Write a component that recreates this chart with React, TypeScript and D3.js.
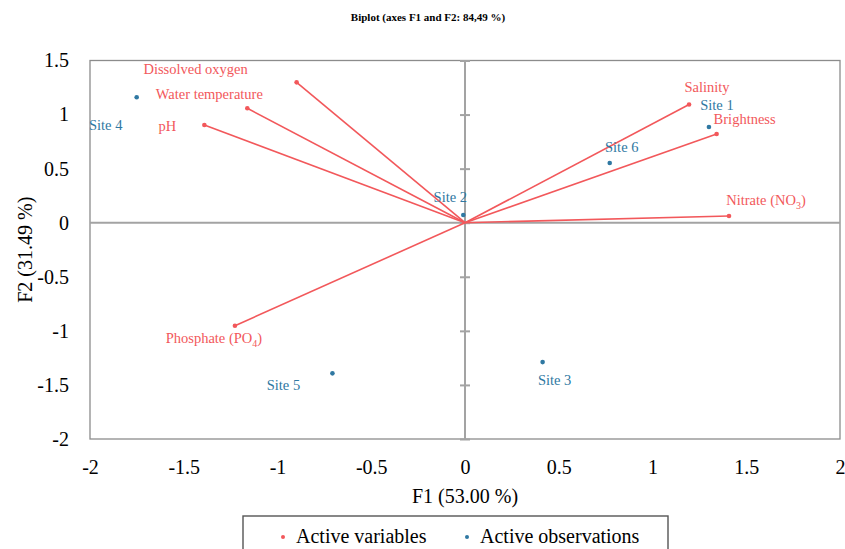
import React, { useEffect, useRef } from "react";
import * as d3 from "d3";

// active variables (F1, F2 coordinates)
const varNames = ["Dissolved oxygen", "Water temperature", "pH", "Salinity", "Brightness", "Nitrate (NO|3|)", "Phosphate (PO|4|)"];
const varF1 = [-0.898, -1.161, -1.39, 1.195, 1.342, 1.408, -1.227];
const varF2 = [1.298, 1.058, 0.904, 1.093, 0.82, 0.062, -0.953];

// active observations
const obsNames = ["Site 1", "Site 2", "Site 3", "Site 4", "Site 5", "Site 6"];
const obsF1 = [1.301, -0.009, 0.414, -1.751, -0.707, 0.772];
const obsF2 = [0.885, 0.071, -1.289, 1.16, -1.393, 0.552];

const xTicks = [-2, -1.5, -1, -0.5, 0, 0.5, 1, 1.5, 2];
const yTicks = [-2, -1.5, -1, -0.5, 0, 0.5, 1, 1.5];

const title = "Biplot (axes F1 and F2: 84,49 %)";
const xTitle = "F1 (53.00 %)";
const yTitle = "F2 (31.49 %)";
const legendLabels = ["Active variables", "Active observations"];

// label offsets in px from the point (text centre, baseline)
const varLabelOffset = [[-101, -8], [-38, -9], [-37, 6], [18, -13], [28, -10], [37, -11], [-21, 17]];
const obsLabelOffset = [[8, -17], [-13, -13], [12, 23], [-31, 33], [-49, 17], [12, -11]];

const RED = "#f2585b";
const BLUE = "#2f78a2";
const GREY = "#a3a3a3";

const App = () => {
  const ref = useRef<SVGSVGElement>(null);

  useEffect(() => {
    const width = 845,
      height = 549;
    const margin = { top: 60.5, right: 5, bottom: 110, left: 90 };

    const svg = d3.select(ref.current);
    svg.selectAll("*").remove();

    const x = d3.scaleLinear().domain([-2, 2]).range([margin.left, width - margin.right]);
    const y = d3.scaleLinear().domain([-2, 1.5]).range([height - margin.bottom, margin.top]);

    const font = "'Liberation Serif', 'Times New Roman', serif";

    // title
    svg
      .append("text")
      .attr("x", 428)
      .attr("y", 21)
      .attr("text-anchor", "middle")
      .style("font-family", font)
      .style("font-weight", "bold")
      .style("font-size", "11px")
      .text(title);

    // frame
    svg
      .append("rect")
      .attr("x", x(-2))
      .attr("y", y(1.5))
      .attr("width", x(2) - x(-2))
      .attr("height", y(-2) - y(1.5))
      .attr("fill", "none")
      .attr("stroke", "#8c8c8c")
      .attr("stroke-width", 1.3);

    // tick labels
    const gx = svg
      .append("g")
      .attr("transform", `translate(0,${y(-2)})`)
      .call(d3.axisBottom(x).tickValues(xTicks).tickSize(0).tickPadding(21).tickFormat((d) => String(d)));
    gx.select(".domain").remove();
    gx.selectAll("text").style("font-family", font).style("font-size", "20px").attr("fill", "#000");

    const gy = svg
      .append("g")
      .attr("transform", `translate(${x(-2)},0)`)
      .call(d3.axisLeft(y).tickValues(yTicks).tickSize(0).tickPadding(21).tickFormat((d) => String(d)));
    gy.select(".domain").remove();
    gy.selectAll("text").style("font-family", font).style("font-size", "20px").attr("fill", "#000");

    // zero lines
    svg
      .append("line")
      .attr("x1", x(-2))
      .attr("x2", x(2))
      .attr("y1", y(0))
      .attr("y2", y(0))
      .attr("stroke", GREY)
      .attr("stroke-width", 2);

    const gz = svg
      .append("g")
      .attr("transform", `translate(${x(0) + 5},0)`)
      .call(d3.axisLeft(y).tickValues(yTicks).tickSize(10).tickSizeOuter(0).tickFormat(() => ""));
    gz.select(".domain").remove();
    gz.selectAll("line").attr("stroke", GREY).attr("stroke-width", 2);
    svg
      .append("line")
      .attr("x1", x(0))
      .attr("x2", x(0))
      .attr("y1", y(1.5))
      .attr("y2", y(-2))
      .attr("stroke", GREY)
      .attr("stroke-width", 2);

    // axis titles
    svg
      .append("text")
      .attr("x", x(0))
      .attr("y", 503)
      .attr("text-anchor", "middle")
      .style("font-family", font)
      .style("font-size", "20px")
      .text(xTitle);
    svg
      .append("text")
      .attr("transform", `translate(32,${y(-0.25)}) rotate(-90)`)
      .attr("text-anchor", "middle")
      .style("font-family", font)
      .style("font-size", "20px")
      .text(yTitle);

    // variable vectors
    const vars = varNames.map((name, i) => ({ name, f1: varF1[i], f2: varF2[i], off: varLabelOffset[i] }));
    svg
      .append("g")
      .selectAll("line")
      .data(vars)
      .enter()
      .append("line")
      .attr("x1", x(0))
      .attr("y1", y(0))
      .attr("x2", (d) => x(d.f1))
      .attr("y2", (d) => y(d.f2))
      .attr("stroke", RED)
      .attr("stroke-width", 1.6);
    svg
      .append("g")
      .selectAll("circle")
      .data(vars)
      .enter()
      .append("circle")
      .attr("cx", (d) => x(d.f1))
      .attr("cy", (d) => y(d.f2))
      .attr("r", 2.3)
      .attr("fill", RED);

    const varText = svg
      .append("g")
      .selectAll("text")
      .data(vars)
      .enter()
      .append("text")
      .attr("x", (d) => x(d.f1) + d.off[0])
      .attr("y", (d) => y(d.f2) + d.off[1])
      .attr("text-anchor", "middle")
      .attr("fill", RED)
      .style("font-family", font)
      .style("font-size", "14.5px");
    varText.each(function (d) {
      const parts = d.name.split("|");
      const t = d3.select(this);
      parts.forEach((p, k) => {
        if (!p) return;
        const sub = k % 2 === 1;
        t.append("tspan")
          .attr("dy", sub ? 4 : k > 0 ? -4 : 0)
          .style("font-size", sub ? "10px" : null)
          .text(p);
      });
    });

    // observations
    const obs = obsNames.map((name, i) => ({ name, f1: obsF1[i], f2: obsF2[i], off: obsLabelOffset[i] }));
    svg
      .append("g")
      .selectAll("circle")
      .data(obs)
      .enter()
      .append("circle")
      .attr("cx", (d) => x(d.f1))
      .attr("cy", (d) => y(d.f2))
      .attr("r", 2.3)
      .attr("fill", BLUE);
    svg
      .append("g")
      .selectAll("text")
      .data(obs)
      .enter()
      .append("text")
      .attr("x", (d) => x(d.f1) + d.off[0])
      .attr("y", (d) => y(d.f2) + d.off[1])
      .attr("text-anchor", "middle")
      .attr("fill", BLUE)
      .style("font-family", font)
      .style("font-size", "14.5px")
      .text((d) => d.name);

    // legend
    const lg = svg.append("g");
    lg.append("rect")
      .attr("x", 243)
      .attr("y", 516)
      .attr("width", 425)
      .attr("height", 50)
      .attr("fill", "#fff")
      .attr("stroke", "#555")
      .attr("stroke-width", 1.4);
    const legendColors = [RED, BLUE];
    const legendX = [283, 467];
    legendLabels.forEach((l, i) => {
      lg.append("circle").attr("cx", legendX[i]).attr("cy", 537).attr("r", 2).attr("fill", legendColors[i]);
      lg.append("text")
        .attr("x", legendX[i] + 13)
        .attr("y", 543)
        .style("font-family", font)
        .style("font-size", "20px")
        .text(l);
    });
  }, []);

  return (
    <svg
      ref={ref}
      width={845}
      height={549}
      style={{ position: "absolute", left: 0, top: 0, background: "#fff" }}
    ></svg>
  );
};

export default App;
